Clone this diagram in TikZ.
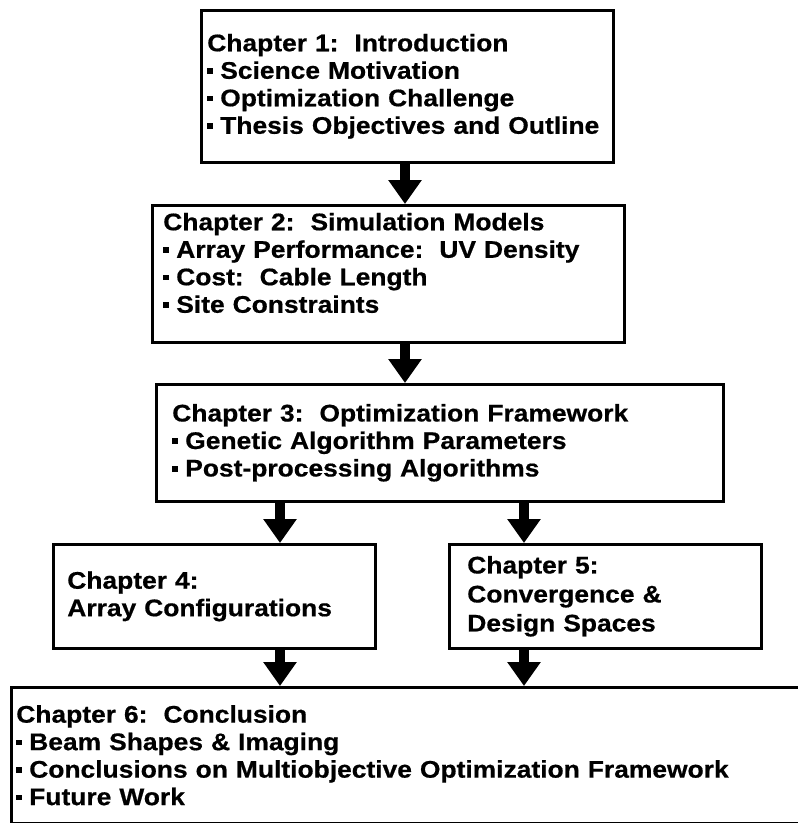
\documentclass[tikz,border=0pt]{standalone}
\usepackage{fontspec}
\setmainfont{Liberation Sans}[FakeStretch=1.1,FakeBold=0.6]
\usetikzlibrary{arrows.meta}
% small square bullet used in the item lists
\newcommand\itm{\rule[0.2em]{0.22em}{0.24em}\hspace{0.32em}}
% invisible strut that adds depth below the last line
\newcommand\lowpad[1]{\rule[-#1]{0pt}{#1}}

\begin{document}
\begin{tikzpicture}[x=1pt,y=-1pt,
  box/.style={draw=black, line width=2.6pt, fill=white, anchor=north west,
    align=left, inner ysep=0pt,
    font=\fontsize{24}{27.5}\selectfont\bfseries},
  arr/.style={line width=10pt, -{Triangle[width=32pt,length=24pt]}}]
\useasboundingbox (0,0) rectangle (798,823);

% chapter boxes
\node[box, minimum width=412pt, minimum height=152pt, text width=400pt, inner xsep=6pt] (b1) at (200,9)
  {Chapter 1:\ \ Introduction\\ \itm Science Motivation\\ \itm Optimization Challenge\\ \itm Thesis Objectives and Outline};
\node[box, minimum width=472pt, minimum height=137pt, text width=450pt, inner xsep=11pt] (b2) at (151,204)
  {Chapter 2:\ \ Simulation Models\\ \itm Array Performance:\ \ UV Density\\ \itm Cost:\ \ Cable Length\\ \itm Site Constraints\lowpad{22pt}};
\node[box, minimum width=567pt, minimum height=117pt, text width=535pt, inner xsep=16pt] (b3) at (155,383)
  {Chapter 3:\ \ Optimization Framework\\ \itm Genetic Algorithm Parameters\\ \itm Post-processing Algorithms};
\node[box, minimum width=322pt, minimum height=104pt, text width=294pt, inner xsep=14pt] (b4) at (52,543)
  {Chapter 4:\\ Array Configurations};
\node[box, minimum width=312pt, minimum height=104pt, text width=276pt, inner xsep=18pt,
  font=\fontsize{24}{29}\selectfont\bfseries] (b5) at (448,543)
  {Chapter 5:\\ Convergence \&\\ Design Spaces};
\node[box, minimum width=800pt, minimum height=136pt, text width=790pt, inner xsep=5pt] (b6) at (10,686)
  {Chapter 6:\ \ Conclusion\\ \itm Beam Shapes \& Imaging\\ \itm Conclusions on Multiobjective Optimization Framework\\ \itm Future Work};

% arrow columns
\coordinate (xm) at (405,0);
\coordinate (xl) at (280,0);
\coordinate (xr) at (524,0);

% connectors
\draw[arr] (b1.south -| xm) -- (b2.north -| xm);
\draw[arr] (b2.south -| xm) -- (b3.north -| xm);
\draw[arr] (b3.south -| xl) -- (b4.north -| xl);
\draw[arr] (b3.south -| xr) -- (b5.north -| xr);
\draw[arr] (b4.south -| xl) -- (b6.north -| xl);
\draw[arr] (b5.south -| xr) -- (b6.north -| xr);
\end{tikzpicture}
\end{document}
